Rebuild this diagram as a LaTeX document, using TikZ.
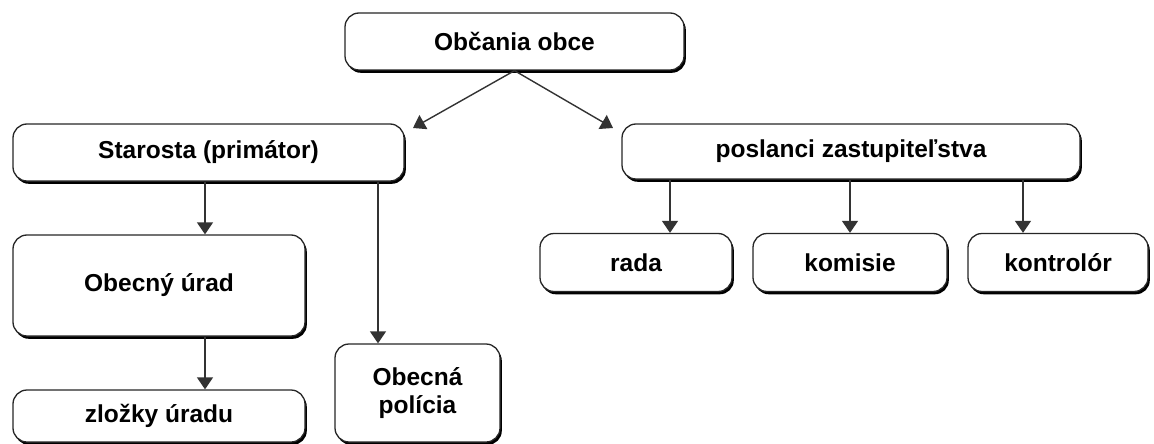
\documentclass[tikz,border=0pt]{standalone}
\usepackage{fontspec}
\setmainfont{Liberation Sans}
\usetikzlibrary{arrows.meta, shadows}

\begin{document}
\begin{tikzpicture}[x=1pt, y=-1pt, >={Triangle[width=16pt,length=12pt]},
  box/.style={draw=black!85, line width=1.3pt, rounded corners=14pt, fill=white,
    drop shadow={shadow xshift=1.8pt, shadow yshift=-2.8pt, fill=black, opacity=1},
    font=\fontsize{24.5}{28}\selectfont\bfseries, align=center, inner sep=0pt},
  link/.style={->, line width=1.4pt, draw=black!80}]
  \useasboundingbox (0,0) rectangle (1154,444);
  % top
  \node[box, minimum width=339pt, minimum height=57pt] (obcania) at (514.5,41.5) {Občania obce};
  \coordinate (lend) at (413,128);
  \coordinate (rend) at (613,128);
  % left branch
  \node[box, minimum width=391pt, minimum height=57pt] (starosta) at (208.5,152.5) {Starosta (primátor)};
  \node[box, minimum width=292pt, minimum height=101pt] (urad) at (159,285.5) {Obecný úrad};
  \node[box, minimum width=292pt, minimum height=52pt] (zlozky) at (159,416) {zložky úradu};
  \node[box, minimum width=165pt, minimum height=98pt] (policia) at (417.5,393) {Obecná\\polícia};
  % right branch
  \node[box, minimum width=458pt, minimum height=55pt] (poslanci) at (851,151.5) {poslanci zastupiteľstva};
  \node[box, minimum width=192pt, minimum height=58pt] (rada) at (636,262.5) {rada};
  \node[box, minimum width=194pt, minimum height=58pt] (komisie) at (850,262.5) {komisie};
  \node[box, minimum width=180pt, minimum height=58pt] (kontrolor) at (1058,262.5) {kontrolór};

  \draw[link] (obcania.south) -- (lend);
  \draw[link] (obcania.south) -- (rend);
  \draw[link] (205,0 |- starosta.south) -- (205,0 |- urad.north);
  \draw[link] (205,0 |- urad.south) -- (205,0 |- zlozky.north);
  \draw[link] (378,0 |- starosta.south) -- (378,0 |- policia.north);
  \draw[link] (670,0 |- poslanci.south) -- (670,0 |- rada.north);
  \draw[link] (850,0 |- poslanci.south) -- (850,0 |- komisie.north);
  \draw[link] (1023,0 |- poslanci.south) -- (1023,0 |- kontrolor.north);
\end{tikzpicture}
\end{document}
